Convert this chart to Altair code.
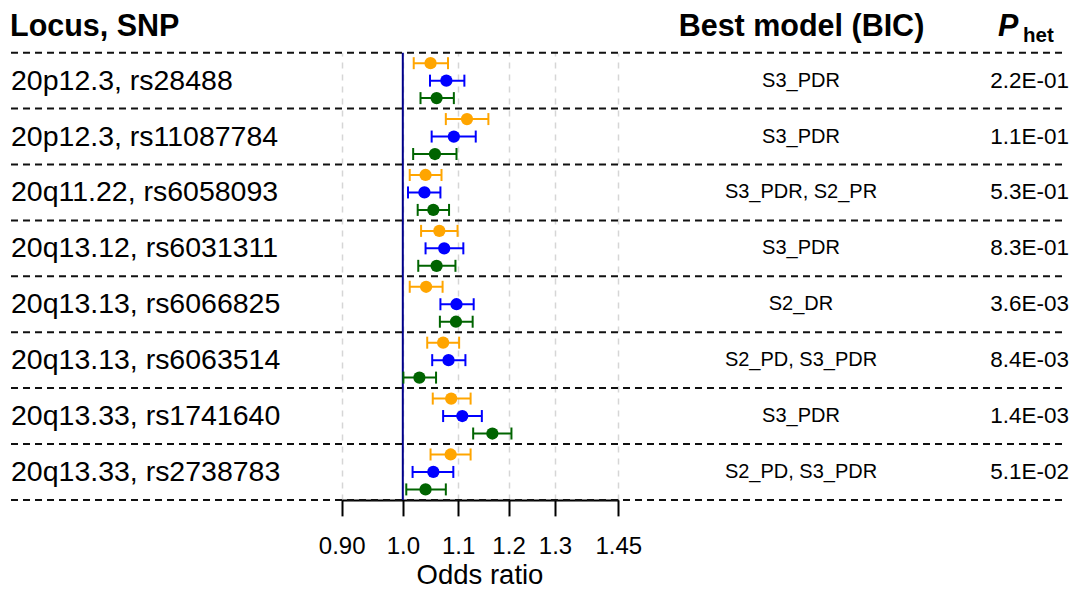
import altair as alt
import pandas as pd

loci = ["20p12.3, rs28488", "20p12.3, rs11087784", "20q11.22, rs6058093",
        "20q13.12, rs6031311", "20q13.13, rs6066825", "20q13.13, rs6063514",
        "20q13.33, rs1741640", "20q13.33, rs2738783"]
models = ["S3_PDR", "S3_PDR", "S3_PDR, S2_PR", "S3_PDR", "S2_DR",
          "S2_PD, S3_PDR", "S3_PDR", "S2_PD, S3_PDR"]
phet = ["2.2E-01", "1.1E-01", "5.3E-01", "8.3E-01", "3.6E-03",
        "8.4E-03", "1.4E-03", "5.1E-02"]

groups = ["orange", "blue", "green"]
colors = ["#FFA500", "#0000FF", "#006400"]

orange_or = [1.049, 1.117, 1.040, 1.065, 1.041, 1.072, 1.087, 1.086]
orange_lo = [1.019, 1.077, 1.012, 1.032, 1.012, 1.043, 1.053, 1.049]
orange_hi = [1.081, 1.159, 1.069, 1.099, 1.071, 1.102, 1.124, 1.124]
blue_or = [1.078, 1.092, 1.038, 1.074, 1.097, 1.082, 1.108, 1.054]
blue_lo = [1.048, 1.051, 1.009, 1.040, 1.067, 1.052, 1.072, 1.017]
blue_hi = [1.112, 1.134, 1.067, 1.110, 1.130, 1.114, 1.146, 1.091]
green_or = [1.060, 1.057, 1.054, 1.060, 1.096, 1.029, 1.167, 1.040]
green_lo = [1.031, 1.018, 1.026, 1.027, 1.066, 1.001, 1.129, 1.006]
green_hi = [1.092, 1.097, 1.083, 1.095, 1.128, 1.059, 1.206, 1.077]

tick_values = [0.9, 1.0, 1.1, 1.2, 1.3, 1.45]

series = {
    "orange": (orange_or, orange_lo, orange_hi),
    "blue": (blue_or, blue_lo, blue_hi),
    "green": (green_or, green_lo, green_hi),
}
rows = []
for g in groups:
    o, lo, hi = series[g]
    for i, loc in enumerate(loci):
        rows.append({"locus": loc, "group": g, "or": o[i], "lo": lo[i], "hi": hi[i]})
df = pd.DataFrame(rows)
labels_df = pd.DataFrame({"locus": loci, "model": models, "phet": phet})

FONT = "Liberation Sans"
W, H = 1055, 447.2

xscale = alt.Scale(type="log", domain=[0.9, 1.45], range=[333.7, 610.3], nice=False)
yscale = alt.Scale(domain=loci, paddingInner=0, paddingOuter=0)
yoff = alt.YOffset("group:N", scale=alt.Scale(domain=groups, paddingInner=0, paddingOuter=0.1))
col = alt.Color("group:N", scale=alt.Scale(domain=groups, range=colors), legend=None)

xaxis = alt.Axis(
    values=tick_values,
    labelExpr="datum.value < 0.95 ? '0.90' : (datum.value > 1.4 ? '1.45' : format(datum.value, '.1f'))",
    grid=True, gridDash=[6, 6], gridColor="#d6d6d6", gridWidth=1.5,
    tickSize=16, tickWidth=2, tickColor="black",
    domainColor="black", domainWidth=2,
    labelFont=FONT, labelFontSize=24, labelColor="black",
    labelBaseline="alphabetic", labelPadding=38, labelOverlap=False, labelBound=False, labelFlush=False,
    title=None,
)

# row separators
sep = alt.Chart(labels_df).mark_rule(color="#111111", strokeWidth=2, strokeDash=[7, 5]).encode(
    y=alt.Y("locus:N", bandPosition=0, scale=yscale, axis=None),
    x=alt.value(3), x2=alt.value(1056),
)
sep_bottom = alt.Chart(pd.DataFrame({"a": [0]})).mark_rule(color="#111111", strokeWidth=2, strokeDash=[7, 5]).encode(
    y=alt.value(H), x=alt.value(3), x2=alt.value(1056),
)

ref = alt.Chart(pd.DataFrame({"v": [1.0]})).mark_rule(color="#00008B", strokeWidth=2).encode(
    x=alt.X("v:Q", scale=xscale, axis=xaxis),
)

bars = alt.Chart(df).mark_rule(strokeWidth=2).encode(
    x=alt.X("lo:Q", scale=xscale), x2="hi:Q",
    y=alt.Y("locus:N", scale=yscale, axis=None), yOffset=yoff, color=col,
)
cap_lo = alt.Chart(df).mark_tick(size=12, thickness=2, opacity=1).encode(
    x=alt.X("lo:Q", scale=xscale), y=alt.Y("locus:N", scale=yscale, axis=None), yOffset=yoff, color=col,
)
cap_hi = alt.Chart(df).mark_tick(size=12, thickness=2, opacity=1).encode(
    x=alt.X("hi:Q", scale=xscale), y=alt.Y("locus:N", scale=yscale, axis=None), yOffset=yoff, color=col,
)
pts = alt.Chart(df).mark_circle(size=150, opacity=1).encode(
    x=alt.X("or:Q", scale=xscale), y=alt.Y("locus:N", scale=yscale, axis=None), yOffset=yoff, color=col,
)

lab_locus = alt.Chart(labels_df).mark_text(align="left", baseline="middle", font=FONT, fontSize=28.5, color="black").encode(
    y=alt.Y("locus:N", scale=yscale, axis=None), x=alt.value(3), text="locus:N",
)
lab_model = alt.Chart(labels_df).mark_text(align="center", baseline="middle", font=FONT, fontSize=20, color="black").encode(
    y=alt.Y("locus:N", scale=yscale, axis=None), x=alt.value(793), text="model:N",
)
lab_p = alt.Chart(labels_df).mark_text(align="right", baseline="middle", font=FONT, fontSize=22.5, color="black").encode(
    y=alt.Y("locus:N", scale=yscale, axis=None), x=alt.value(1061), text="phet:N",
)

hdr = pd.DataFrame({"t": ["Locus, SNP", "Best model (BIC)", "P", "het", "Odds ratio"]})


def header(text, x, y, align, size, weight="bold", style="normal"):
    return alt.Chart(hdr).transform_filter(alt.datum.t == text).mark_text(
        align=align, baseline="alphabetic", font=FONT, fontSize=size, fontWeight=weight,
        fontStyle=style, color="black",
    ).encode(x=alt.value(x), y=alt.value(y), text="t:N")


h1 = header("Locus, SNP", 2, -16.5, "left", 30.5)
h2 = header("Best model (BIC)", 793.5, -16.5, "center", 30.5)
h3 = header("P", 990, -17, "left", 30.5, style="italic")
h4 = header("het", 1015, -11, "left", 20.5)
xt = header("Odds ratio", 472, 531.8, "center", 27.5, weight="normal")

chart = alt.layer(
    ref, sep, sep_bottom, bars, cap_lo, cap_hi, pts,
    lab_locus, lab_model, lab_p, h1, h2, h3, h4, xt,
).properties(
    width=W, height=H,
    autosize=alt.AutoSizeParams(type="none"),
    padding={"left": 0, "top": 44.7, "right": 8, "bottom": 91},
    background="white",
).configure_view(stroke=None)

chart.save("out.html", embed_options={"renderer": "svg", "actions": False})
